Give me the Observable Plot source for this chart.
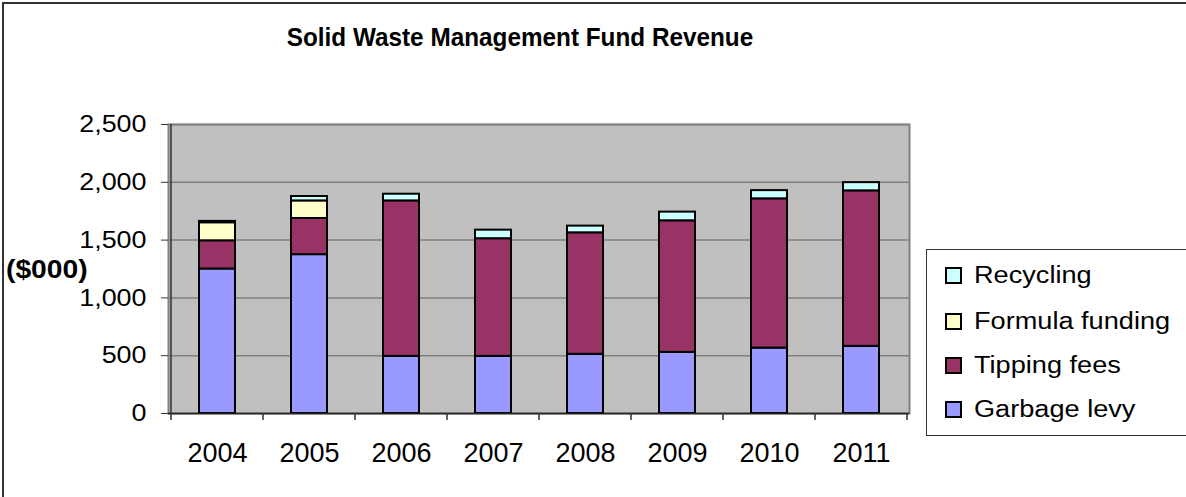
<!DOCTYPE html>
<html>
<head>
<meta charset="utf-8">
<script src="https://cdn.jsdelivr.net/npm/d3@7"></script>
<script src="https://cdn.jsdelivr.net/npm/@observablehq/plot@0.6"></script>
<style>
  html, body { margin: 0; padding: 0; background: #fff; }
  #wrap { position: relative; width: 1186px; height: 497px; overflow: hidden; font-family: "Liberation Sans", Arial, sans-serif; }
  #border { position: absolute; left: 2px; top: 2px; width: 1200px; height: 520px; border-left: 2px solid #333; border-top: 2px solid #333; box-sizing: border-box; }
  #title { position: absolute; left: 0; width: 1040px; top: 23px; text-align: center; font-weight: bold; font-size: 26px; line-height: 1.15; transform: scaleX(0.935); transform-origin: 520px 0; }
  #ylab { position: absolute; left: 6px; top: 257px; font-weight: bold; font-size: 25px; line-height: 1; transform: scaleX(1.13); transform-origin: left center; }
  #legend { position: absolute; left: 926px; top: 249px; width: 280px; height: 187px; border: 1.5px solid #333; box-sizing: border-box; background: #fff; }
  .item { position: absolute; left: 18px; font-size: 23px; display: flex; align-items: center; }
  .item span { display: inline-block; transform: scaleX(1.18); transform-origin: left center; }
  .sw { width: 13px; height: 13px; border: 2px solid #000; margin-right: 12px; }
  svg { position: absolute; left: 0; top: 0; }
</style>
</head>
<body>
<div id="wrap">
  <div id="chart"></div>
  <div id="border"></div>
  <div id="title">Solid Waste Management Fund Revenue</div>
  <div id="ylab">($000)</div>
  <div id="legend"></div>
</div>
<script>
const years = ["2004", "2005", "2006", "2007", "2008", "2009", "2010", "2011"];
const seriesNames = ["Garbage levy", "Tipping fees", "Formula funding", "Recycling"];
const seriesColors = ["#9999ff", "#993366", "#ffffcc", "#ccffff"];
const garbageLevy    = [1250, 1374, 494, 494, 512, 529, 566, 581];
const tippingFees    = [244, 313, 1345, 1018, 1051, 1138, 1291, 1345];
const formulaFunding = [156, 152, 0, 0, 0, 0, 0, 0];
const recycling      = [12, 38, 58, 74, 58, 75, 71, 71];
const yTicks = [0, 500, 1000, 1500, 2000, 2500];

const seriesValues = [garbageLevy, tippingFees, formulaFunding, recycling];
const rows = [];
seriesNames.forEach((s, si) => years.forEach((y, yi) => {
  rows.push({year: y, series: s, value: seriesValues[si][yi]});
}));

const W = 1186, H = 497;
const plot = Plot.plot({
  width: W, height: H,
  marginLeft: 168, marginRight: 277, marginTop: 124, marginBottom: 84,
  style: {fontFamily: "'Liberation Sans', Arial, sans-serif", background: "transparent", overflow: "visible"},
  x: {domain: years, padding: 0, label: null},
  y: {domain: [0, 2500], label: null},
  color: {domain: seriesNames, range: seriesColors},
  marks: [
    Plot.frame({fill: "#c0c0c0"}),
    Plot.gridY(yTicks, {stroke: "#808080", strokeOpacity: 1, strokeWidth: 1.5}),
    Plot.frame({stroke: "#808080", strokeWidth: 2}),
    Plot.barY(rows.filter(d => d.value > 0), {
      x: "year", y: "value", fill: "series", order: seriesNames,
      stroke: "#000", strokeWidth: 2, insetLeft: 28, insetRight: 28
    }),
    Plot.axisY(yTicks, {tickSize: 7, tickPadding: 15, tickFormat: d3.format(","), fontSize: 24, stroke: "#333", fill: "#000"}),
    Plot.axisX({tickSize: 0, tickPadding: 29, fontSize: 27, fill: "#000"}),
    Plot.ruleY([0], {stroke: "#222", strokeWidth: 1.5})
  ]
});
document.getElementById("chart").appendChild(plot);

// widen the y tick labels slightly, as in the reference
d3.select(plot).selectAll("g[aria-label='y-axis tick label'] text").each(function() {
  const t = this.getAttribute("transform") || "";
  this.setAttribute("transform", t + " scale(1.12,1)");
});

// category boundary ticks below the axis, from the band scale
const xs = plot.scale("x"), ys = plot.scale("y");
const y0 = ys.apply(0);
const bounds = years.map(d => xs.apply(d));
bounds.push(xs.apply(years[years.length - 1]) + xs.bandwidth);
d3.select(plot).append("g").selectAll("line").data(bounds).join("line")
  .attr("x1", d => d).attr("x2", d => d)
  .attr("y1", y0).attr("y2", y0 + 7)
  .attr("stroke", "#333").attr("stroke-width", 1.5);
// left axis line
d3.select(plot).append("line")
  .attr("x1", xs.apply(years[0])).attr("x2", xs.apply(years[0]))
  .attr("y1", ys.apply(2500)).attr("y2", y0)
  .attr("stroke", "#333").attr("stroke-width", 1.5);

// legend (top to bottom: reverse stacking order)
const legend = document.getElementById("legend");
const tops = [12, 58, 102, 146];
seriesNames.slice().reverse().forEach((s, i) => {
  const c = seriesColors[seriesNames.indexOf(s)];
  const it = document.createElement("div");
  it.className = "item";
  it.style.top = tops[i] + "px";
  it.innerHTML = `<div class="sw" style="background:${c}"></div><span>${s}</span>`;
  legend.appendChild(it);
});
</script>
</body>
</html>
